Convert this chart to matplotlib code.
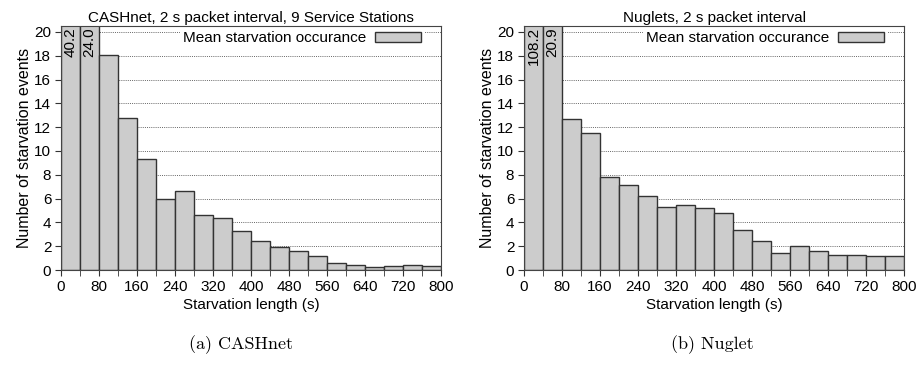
import numpy as np
import matplotlib.pyplot as plt

plt.rcParams['font.family'] = ['Liberation Sans', 'DejaVu Sans']

bin_edges = np.arange(0, 801, 40)
cash_counts = [40.2, 24.0, 18.1, 12.8, 9.3, 5.95, 6.65, 4.6, 4.4, 3.25,
               2.4, 1.95, 1.6, 1.15, 0.6, 0.45, 0.25, 0.35, 0.4, 0.35]
nuglet_counts = [108.2, 20.9, 12.65, 11.55, 7.85, 7.1, 6.2, 5.3, 5.45, 5.25,
                 4.8, 3.35, 2.4, 1.45, 2.0, 1.6, 1.25, 1.3, 1.15, 1.15]
titles = ["CASHnet, 2 s packet interval, 9 Service Stations",
          "Nuglets, 2 s packet interval"]
captions = ["(a) CASHnet", "(b) Nuglet"]
ymax = 20.5

fig = plt.figure(figsize=(9.22, 3.87), dpi=100)
lefts = [61 / 922, 524 / 922]

for i, counts in enumerate([cash_counts, nuglet_counts]):
    ax = fig.add_axes([lefts[i], 117 / 387, 380 / 922, 244 / 387])
    ax.bar(bin_edges[:-1], counts, width=40, align='edge', color='#cccccc',
           edgecolor='#333333', linewidth=1.0, label='Mean starvation occurance',
           zorder=2)
    ax.set_xlim(0, 800)
    ax.set_ylim(0, ymax)
    ax.set_xticks(np.arange(0, 801, 80))
    ax.set_xticks(np.arange(40, 800, 80), minor=True)
    ax.set_yticks(np.arange(0, 21, 2))
    ax.yaxis.grid(True, linestyle=(0, (1, 1.2)), color='#666666', linewidth=0.7, zorder=0)
    ax.set_axisbelow(True)
    ax.tick_params(direction='out', labelsize=11, length=4, color='#333333', pad=3)
    ax.tick_params(which='minor', direction='out', length=4, color='#333333')
    for s in ax.spines.values():
        s.set_color('#444444')
    ax.set_title(titles[i], fontsize=11, pad=3)
    ax.set_xlabel("Starvation length (s)", fontsize=11, labelpad=3)
    ax.set_ylabel("Number of starvation events", fontsize=11.5, labelpad=2)
    # labels for clipped bars
    for j in range(2):
        if counts[j] > ymax:
            ax.text(bin_edges[j] + 20, ymax - 0.1, f"{counts[j]:.1f}", rotation=90,
                    ha='center', va='top', fontsize=11, zorder=3)
    leg = ax.legend(loc='upper right', bbox_to_anchor=(0.955, 0.99),
                    markerfirst=False, fontsize=11,
                    handlelength=3.0, handleheight=0.6, frameon=True,
                    borderaxespad=0, fancybox=False, framealpha=1,
                    borderpad=0.2, handletextpad=0.6)
    leg.get_frame().set_edgecolor('white')
    leg.get_frame().set_linewidth(0)
    leg.set_zorder(1.5)
    fig.text([241 / 922, 712 / 922][i], 1 - 345 / 387, captions[i],
             ha='center', va='center', fontsize=13, family=['cmr10', 'DejaVu Serif'])

fig.savefig('out.png', dpi=100)
